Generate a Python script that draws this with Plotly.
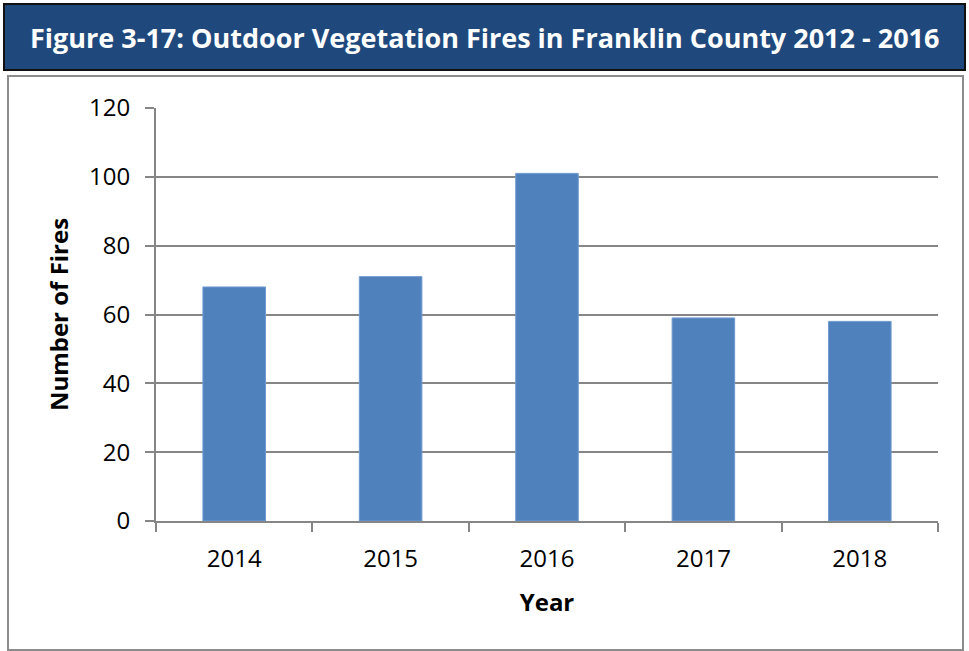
import plotly.graph_objects as go

# Outdoor vegetation fires per year
years = ["2014", "2015", "2016", "2017", "2018"]
fires = [68, 71, 101, 59, 58]
y_ticks = [0, 20, 40, 60, 80, 100, 120]

title_text = "Figure 3-17: Outdoor Vegetation Fires in Franklin County 2012 - 2016"

W, H = 969, 651
FONT = "Open Sans"


def px_x(x):
    return x / W


def px_y(y):
    return 1 - y / H


fig = go.Figure(
    go.Bar(
        x=years,
        y=fires,
        marker=dict(color="#4F81BD", line=dict(color="#6F9AD0", width=1)),
        hoverinfo="x+y",
    )
)

fig.update_layout(
    width=W,
    height=H,
    margin=dict(l=0, r=0, t=0, b=0),
    paper_bgcolor="white",
    plot_bgcolor="white",
    bargap=0.6,
    showlegend=False,
    font=dict(family=FONT, color="black"),
    xaxis=dict(
        domain=[px_x(156), px_x(938)],
        automargin=False,
        showline=True,
        linecolor="#868686",
        linewidth=2,
        ticks="outside",
        tickson="boundaries",
        ticklen=9,
        tickwidth=2,
        tickcolor="#868686",
        ticklabelstandoff=15,
        tickfont=dict(size=24, family=FONT),
        title=dict(text="<b>Year</b>", font=dict(size=24, family=FONT), standoff=21),
    ),
    yaxis=dict(
        domain=[px_y(521), px_y(108)],
        automargin=False,
        range=[0, 120],
        tickvals=y_ticks,
        showline=True,
        linecolor="#868686",
        linewidth=2,
        ticks="outside",
        ticklen=9,
        tickwidth=2,
        tickcolor="#868686",
        ticklabelstandoff=10,
        showgrid=True,
        gridcolor="#868686",
        gridwidth=2,
        zeroline=False,
        tickfont=dict(size=24, family=FONT),
        title=dict(text="<b>Number of Fires</b>", font=dict(size=24, family=FONT), standoff=14),
    ),
    shapes=[
        # outer frame around the chart
        dict(type="rect", xref="paper", yref="paper",
             x0=px_x(8), x1=px_x(963), y0=px_y(650), y1=px_y(76),
             line=dict(color="#8C8C8C", width=2), fillcolor="rgba(0,0,0,0)", layer="below"),
        # title banner
        dict(type="rect", xref="paper", yref="paper",
             x0=px_x(4), x1=px_x(965), y0=px_y(70), y1=px_y(4),
             line=dict(color="#111111", width=2), fillcolor="#1F497D", layer="below"),
    ],
    annotations=[
        dict(text=f"<b>{title_text}</b>", xref="paper", yref="paper",
             x=px_x(485), y=px_y(37), xanchor="center", yanchor="middle",
             showarrow=False, font=dict(size=27, color="white", family=FONT)),
    ],
)

fig.write_html("out.html")
